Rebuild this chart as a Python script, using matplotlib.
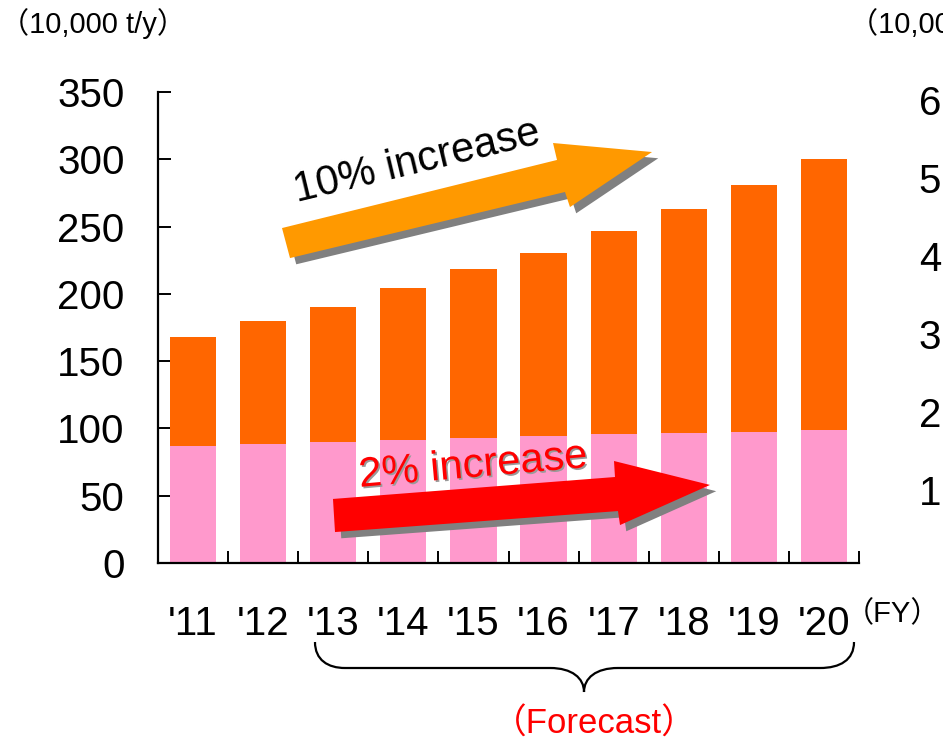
import matplotlib
matplotlib.use("Agg")
import matplotlib.pyplot as plt
import matplotlib.patheffects as pe
from matplotlib.path import Path
from matplotlib.patches import PathPatch, Polygon
from matplotlib.transforms import Affine2D
import numpy as np

plt.rcParams['font.family'] = ['Liberation Sans', 'Noto Sans CJK JP', 'DejaVu Sans']

# ---- data ----
years = ["'11", "'12", "'13", "'14", "'15", "'16", "'17", "'18", "'19", "'20"]
lower = [87, 88.5, 90, 91.5, 93, 94.5, 96, 96.5, 97.5, 99]          # pink series
total = [168, 180, 190, 204, 218.5, 230, 247, 263, 281, 300]        # stacked top
upper = [t - l for t, l in zip(total, lower)]                       # orange series
right_ticks = [1, 2, 3, 4, 5, 6]

PINK = '#FF99CC'
ORANGE = '#FF6600'
ARROW_ORANGE = '#FF9900'
RED = '#FF0000'
SHADOW = '#808080'

W, H = 943, 745
fig = plt.figure(figsize=(W / 100, H / 100), dpi=100)
ax = fig.add_axes([158 / W, (H - 563) / H, (859 - 158) / W, (563 - 92) / H])

x = np.arange(len(years))
ax.bar(x, lower, width=0.66, color=PINK, zorder=2)
ax.bar(x, upper, bottom=lower, width=0.66, color=ORANGE, zorder=2)

ax.set_xlim(-0.5, len(years) - 0.5)
ax.set_ylim(0, 350)
ax.set_yticks(np.arange(0, 351, 50))
ax.set_xticks(x)
ax.set_xticklabels(years)
ax.set_xticks(np.arange(-0.5, len(years), 1.0), minor=True)

for s in ['top', 'right']:
    ax.spines[s].set_visible(False)
for s in ['left', 'bottom']:
    ax.spines[s].set_linewidth(1.6)
    ax.spines[s].set_color('black')

ax.tick_params(axis='y', direction='in', length=9, width=1.4, labelsize=29, pad=24)
ax.tick_params(axis='x', which='major', length=0, labelsize=29, pad=30)
ax.tick_params(axis='x', which='minor', direction='in', length=9, width=1.4)

# right (secondary) axis, cut by the figure edge
ax2 = ax.twinx()
ax2.set_ylim(5 / 78, 476 / 78)
ax2.set_yticks(right_ticks)
ax2.tick_params(axis='y', length=0, labelsize=29, pad=43)
for s in ax2.spines.values():
    s.set_visible(False)

# axis unit labels
fig.text(0 / W, 1 - 24 / H, '（10,000 t/y）', fontsize=21, ha='left', va='center')
fig.text(849 / W, 1 - 24 / H, '（10,000 t/y）', fontsize=21, ha='left', va='center')
fig.text(940 / W, 1 - 614 / H, '（FY）', fontsize=21, ha='right', va='center')

# arrows (data coordinates)
shadow = [pe.SimplePatchShadow(offset=(4.5, -4.5), shadow_rgbFace=SHADOW, alpha=1.0), pe.Normal()]
orange_arrow = [(1.269, 248.9), (5.192, 299.5), (5.135, 312.1), (6.547, 305.4),
                (5.377, 264.5), (5.306, 275.7), (1.383, 226.6)]
red_arrow = [(1.996, 47.6), (6.019, 63.9), (6.005, 75.8), (7.374, 58.0),
             (6.091, 28.2), (6.062, 38.6), (2.025, 23.0)]
for pts, col in [(orange_arrow, ARROW_ORANGE), (red_arrow, RED)]:
    p = Polygon(pts, closed=True, facecolor=col, edgecolor='none', zorder=5,
                clip_on=False, path_effects=shadow)
    ax.add_patch(p)

ax.text(3.195, 298, '10% increase', fontsize=30, color='black', rotation=13.5,
        rotation_mode='anchor', ha='center', va='center', zorder=6)
ax.text(3.993, 72.1, '2% increase', fontsize=30, color=RED, rotation=5,
        rotation_mode='anchor', ha='center', va='center', zorder=6,
        path_effects=[pe.SimplePatchShadow(offset=(1.2, -1.2), shadow_rgbFace='#9a9a9a', alpha=1.0),
                      pe.Normal()])

# curly brace under forecast years (pixel coordinates of the figure)
pix = Affine2D().scale(1 / W, -1 / H).translate(0, 1) + fig.transFigure
verts = [(315, 642), (315, 660), (328, 668), (345, 668),
         (550, 668),
         (572, 668), (584, 678), (584, 692),
         (584, 678), (596, 668), (618, 668),
         (820, 668),
         (840, 668), (854, 660), (854, 642)]
codes = [Path.MOVETO, Path.CURVE4, Path.CURVE4, Path.CURVE4,
         Path.LINETO,
         Path.CURVE4, Path.CURVE4, Path.CURVE4,
         Path.CURVE4, Path.CURVE4, Path.CURVE4,
         Path.LINETO,
         Path.CURVE4, Path.CURVE4, Path.CURVE4]
brace = PathPatch(Path(verts, codes), facecolor='none', edgecolor='black', lw=1.6,
                  transform=pix, clip_on=False)
fig.add_artist(brace)

fig.text(594 / W, 1 - 724 / H, '（Forecast）', fontsize=25, color=RED, ha='center', va='center')

fig.savefig('out.png', dpi=100)
